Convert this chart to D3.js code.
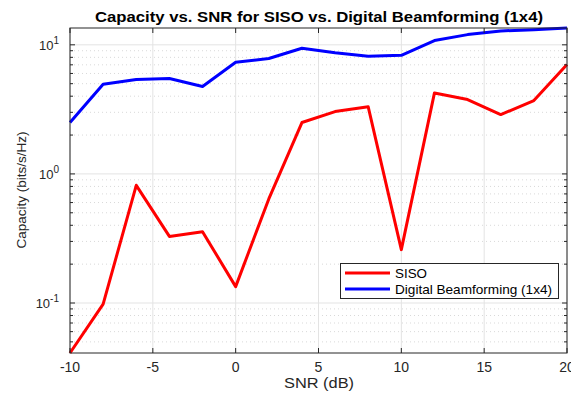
<!DOCTYPE html>
<html>
<head>
<meta charset="utf-8">
<script src="https://cdn.jsdelivr.net/npm/d3@7"></script>
<style>
  html, body { margin: 0; padding: 0; background: #fff; }
  svg { display: block; font-family: "Liberation Sans", Arial, Helvetica, sans-serif; }
</style>
</head>
<body>
<svg id="chart" width="571" height="394"></svg>
<script>
// SNR sweep (dB)
const snr = [-10, -8, -6, -4, -2, 0, 2, 4, 6, 8, 10, 12, 14, 16, 18, 20];
// Capacity (bits/s/Hz)
const sisoCap = [0.041, 0.098, 0.816, 0.328, 0.357, 0.134, 0.64, 2.5, 3.04, 3.31, 0.259, 4.24, 3.77, 2.88, 3.70, 7.03];
const bfCap   = [2.5, 4.95, 5.38, 5.48, 4.75, 7.33, 7.83, 9.41, 8.67, 8.16, 8.3, 10.8, 12.0, 12.8, 13.1, 13.5];
const xTicks = [-10, -5, 0, 5, 10, 15, 20];
const yDecades = [-1, 0, 1];
const seriesNames = ["SISO", "Digital Beamforming (1x4)"];
const seriesColors = ["#ff0000", "#0000ff"];

const svg = d3.select("#chart");
const m = { left: 70, right: 567, top: 28, bottom: 353 };
const axisColor = "#262626";

const allVals = sisoCap.concat(bfCap);
const x = d3.scaleLinear().domain([d3.min(snr), d3.max(snr)]).range([m.left, m.right]);
const y = d3.scaleLog().domain([d3.min(allVals), d3.max(allVals)]).range([m.bottom, m.top]);

// minor ticks for the log axis
const minorTicks = [];
for (let d = -2; d <= 1; d++) {
  for (let k = 2; k <= 9; k++) {
    const v = k * Math.pow(10, d);
    if (v >= y.domain()[0] && v <= y.domain()[1]) minorTicks.push(v);
  }
}
const majorY = yDecades.map(e => Math.pow(10, e));

const grid = svg.append("g");
// minor horizontal grid (dotted)
grid.selectAll("line.minor").data(minorTicks).enter().append("line")
  .attr("x1", m.left).attr("x2", m.right)
  .attr("y1", d => y(d)).attr("y2", d => y(d))
  .attr("stroke", "#d9d9d9").attr("stroke-width", 1).attr("stroke-dasharray", "1,3");
// major grid
grid.selectAll("line.majy").data(majorY).enter().append("line")
  .attr("x1", m.left).attr("x2", m.right)
  .attr("y1", d => y(d)).attr("y2", d => y(d))
  .attr("stroke", "#e3e3e3").attr("stroke-width", 1);
grid.selectAll("line.majx").data(xTicks).enter().append("line")
  .attr("x1", d => x(d)).attr("x2", d => x(d))
  .attr("y1", m.top).attr("y2", m.bottom)
  .attr("stroke", "#e3e3e3").attr("stroke-width", 1);

// series lines
const line = d3.line().x((d, i) => x(snr[i])).y(d => y(d));
[sisoCap, bfCap].forEach((s, i) => {
  svg.append("path").datum(s)
    .attr("d", line)
    .attr("fill", "none")
    .attr("stroke", seriesColors[i])
    .attr("stroke-width", 3)
    .attr("stroke-linejoin", "round");
});

// axes box with inward ticks
const ax = svg.append("g").attr("stroke", axisColor).attr("fill", "none");
ax.append("rect").attr("x", m.left).attr("y", m.top)
  .attr("width", m.right - m.left).attr("height", m.bottom - m.top)
  .attr("stroke-width", 1);
const tl = 5, tlMinor = 3;
xTicks.forEach(t => {
  ax.append("line").attr("x1", x(t)).attr("x2", x(t)).attr("y1", m.bottom).attr("y2", m.bottom - tl);
  ax.append("line").attr("x1", x(t)).attr("x2", x(t)).attr("y1", m.top).attr("y2", m.top + tl);
});
majorY.forEach(v => {
  ax.append("line").attr("x1", m.left).attr("x2", m.left + tl).attr("y1", y(v)).attr("y2", y(v));
  ax.append("line").attr("x1", m.right).attr("x2", m.right - tl).attr("y1", y(v)).attr("y2", y(v));
});
minorTicks.forEach(v => {
  ax.append("line").attr("x1", m.left).attr("x2", m.left + tlMinor).attr("y1", y(v)).attr("y2", y(v));
  ax.append("line").attr("x1", m.right).attr("x2", m.right - tlMinor).attr("y1", y(v)).attr("y2", y(v));
});

// tick labels
svg.append("g").selectAll("text").data(xTicks).enter().append("text")
  .attr("x", d => x(d)).attr("y", 372)
  .attr("text-anchor", "middle").attr("font-size", 14).attr("fill", axisColor)
  .text(d => d);
const yl = svg.append("g").selectAll("text").data(yDecades).enter().append("text")
  .attr("x", 59).attr("y", d => y(Math.pow(10, d)) + 5)
  .attr("text-anchor", "end").attr("font-size", 13).attr("fill", axisColor);
yl.append("tspan").text("10");
yl.append("tspan").attr("dy", -6).attr("font-size", 10).text(d => d);

// titles (horizontal text is set slightly wide)
svg.append("text").attr("x", 95).attr("y", 22)
  .attr("font-size", 14).attr("font-weight", "bold").attr("fill", "#000")
  .attr("textLength", 448).attr("lengthAdjust", "spacingAndGlyphs")
  .text("Capacity vs. SNR for SISO vs. Digital Beamforming (1x4)");
svg.append("text").attr("x", 284).attr("y", 388)
  .attr("font-size", 14).attr("fill", axisColor)
  .attr("textLength", 70).attr("lengthAdjust", "spacingAndGlyphs")
  .text("SNR (dB)");
svg.append("text").attr("transform", "translate(26,190) rotate(-90)")
  .attr("text-anchor", "middle").attr("font-size", 13.5).attr("fill", axisColor)
  .text("Capacity (bits/s/Hz)");

// legend
const legendWidths = [32, 157];
const lg = svg.append("g");
lg.append("rect").attr("x", 340.5).attr("y", 263.5).attr("width", 218).attr("height", 35)
  .attr("fill", "#fff").attr("stroke", axisColor).attr("stroke-width", 1);
seriesNames.forEach((n, i) => {
  const yy = 273 + i * 16;
  lg.append("line").attr("x1", 345).attr("x2", 390).attr("y1", yy).attr("y2", yy)
    .attr("stroke", seriesColors[i]).attr("stroke-width", 3);
  lg.append("text").attr("x", 395).attr("y", yy + 4.5).attr("font-size", 13)
    .attr("textLength", legendWidths[i]).attr("lengthAdjust", "spacingAndGlyphs")
    .attr("fill", "#000").text(n);
});
</script>
</body>
</html>
